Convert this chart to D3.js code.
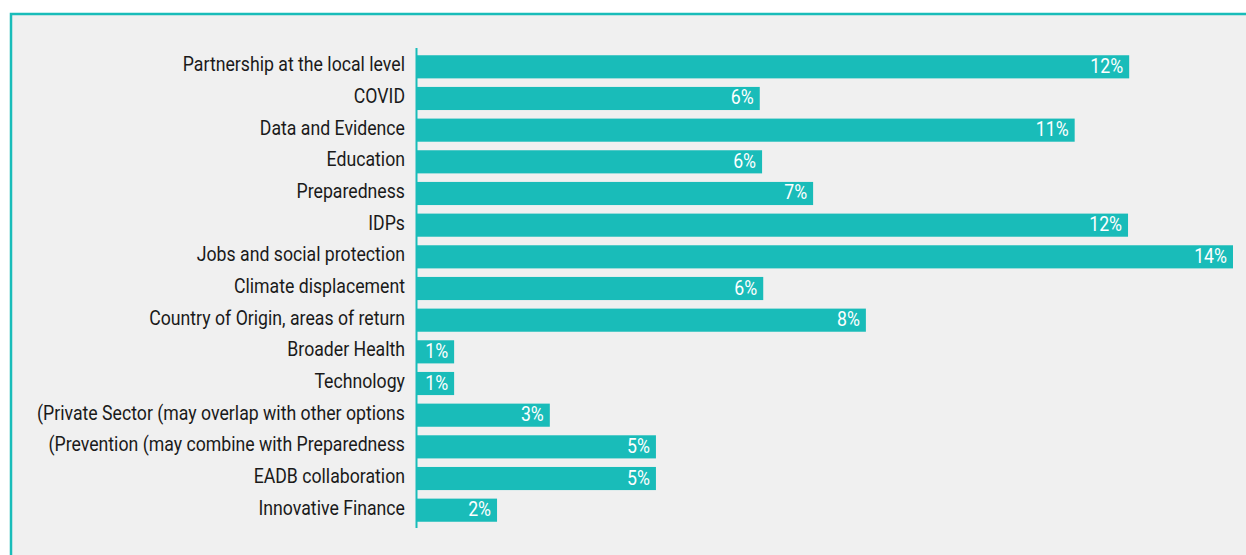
<!DOCTYPE html>
<html>
<head>
<meta charset="utf-8">
<script src="https://cdn.jsdelivr.net/npm/d3@7"></script>
<style>
  body { margin: 0; background: #ffffff; }
  svg { display: block; }
</style>
</head>
<body>
<svg id="chart" width="1246" height="555"></svg>
<script>
// categories, top to bottom
var categories = [
	"Partnership at the local level",
	"COVID",
	"Data and Evidence",
	"Education",
	"Preparedness",
	"IDPs",
	"Jobs and social protection",
	"Climate displacement",
	"Country of Origin, areas of return",
	"Broader Health",
	"Technology",
	"(Private Sector (may overlap with other options",
	"(Prevention (may combine with Preparedness",
	"EADB collaboration",
	"Innovative Finance"
];
// bar lengths (percent)
var values = [12.28, 5.91, 11.34, 5.95, 6.83, 12.26, 14.07, 5.97, 7.74, 0.64, 0.64, 2.29, 4.12, 4.12, 1.38];
// labels as printed on the bars
var valueLabels = ["12%", "6%", "11%", "6%", "7%", "12%", "14%", "6%", "8%", "1%", "1%", "3%", "5%", "5%", "2%"];

var teal = "#19bcb9";
var svg = d3.select("#chart");

// panel with teal top/left border
svg.append("rect")
	.attr("x", 11).attr("y", 14)
	.attr("width", 1246).attr("height", 560)
	.style("fill", "#f0f0f0")
	.style("stroke", teal)
	.style("stroke-width", 2.5);

var margin = { top: 50, left: 417 };
var x = d3.scaleLinear().domain([0, 14.07]).range([margin.left, 1233]);
var y = d3.scaleBand().domain(categories).range([50.5, 526.5]).paddingInner(0.27).paddingOuter(0.15);

// condensed look: squeeze text horizontally
var squeeze = 0.907;

var rows = svg.append("g").selectAll("g")
	.data(categories)
	.enter()
	.append("g");

rows.append("rect")
	.attr("x", x(0))
	.attr("y", d => y(d))
	.attr("width", (d, i) => x(values[i]) - x(0))
	.attr("height", y.bandwidth())
	.style("fill", teal);

rows.append("text")
	.attr("transform", (d, i) => `translate(${x(values[i]) - 6},${y(d) + y.bandwidth() / 2 + 6}) scale(${squeeze},1)`)
	.style("text-anchor", "end")
	.style("font-family", "Roboto, sans-serif")
	.style("font-size", "19.5px")
	.style("fill", "#ffffff")
	.text((d, i) => valueLabels[i]);

rows.append("text")
	.attr("transform", d => `translate(405,${y(d) + y.bandwidth() / 2 + 4.5}) scale(${squeeze},1)`)
	.style("text-anchor", "end")
	.style("font-family", "Roboto, sans-serif")
	.style("font-size", "19.5px")
	.style("fill", "#1a1a1a")
	.text(d => d);

// axis line
svg.append("line")
	.attr("x1", 416.5).attr("x2", 416.5)
	.attr("y1", 48).attr("y2", 528)
	.style("stroke", teal)
	.style("stroke-width", 2);
</script>
</body>
</html>
